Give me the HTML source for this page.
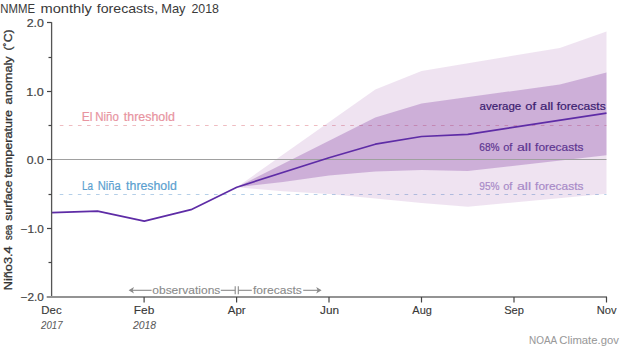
<!DOCTYPE html>
<html><head><meta charset="utf-8"><style>
html,body{margin:0;padding:0;background:#fff;width:620px;height:348px;overflow:hidden}
svg{display:block}
text{font-family:"Liberation Sans", sans-serif}
</style></head><body>
<svg width="620" height="348" viewBox="0 0 620 348">
<rect width="620" height="348" fill="#fff"/>
<text x="0.36" y="12.9" font-size="13" fill="#3a3a3a" stroke="#3a3a3a" stroke-width="0" textLength="34.72" lengthAdjust="spacingAndGlyphs">NMME</text>
<text x="40.51" y="12.9" font-size="13" fill="#3a3a3a" stroke="#3a3a3a" stroke-width="0" textLength="51.31" lengthAdjust="spacingAndGlyphs">monthly</text>
<text x="96.79" y="12.9" font-size="13" fill="#3a3a3a" stroke="#3a3a3a" stroke-width="0" textLength="61.29" lengthAdjust="spacingAndGlyphs">forecasts,</text>
<text x="161.24" y="12.9" font-size="13" fill="#3a3a3a" stroke="#3a3a3a" stroke-width="0" textLength="24.28" lengthAdjust="spacingAndGlyphs">May</text>
<text x="191.38" y="12.9" font-size="13" fill="#3a3a3a" stroke="#3a3a3a" stroke-width="0" textLength="27.57" lengthAdjust="spacingAndGlyphs">2018</text>
<line x1="59.8" y1="125.5" x2="606.5" y2="125.5" stroke="#e07a84" stroke-opacity="0.5" stroke-width="1" stroke-dasharray="3.6,5.476"/>
<line x1="59.7" y1="194.5" x2="606.5" y2="194.5" stroke="#6a9fd2" stroke-opacity="0.5" stroke-width="1" stroke-dasharray="3.6,5.476"/>
<polygon points="236.8,187.2 375.3,89.5 421.6,71.0 559.8,48.0 606.5,31.4 606.5,193.8 467.8,206.8 421.6,203.0 375.3,198.5 329.0,194.0 282.9,191.3 236.8,187.2" fill="#9444a2" fill-opacity="0.15"/>
<polygon points="236.8,187.2 375.3,117.6 421.6,103.4 559.8,84.6 606.5,72.5 606.5,155.2 467.8,171.0 421.6,170.0 375.3,171.4 329.0,175.5 282.9,182.0 236.8,187.2" fill="#7e399e" fill-opacity="0.3"/>
<line x1="51.6" y1="159.5" x2="606.5" y2="159.5" stroke="#a0a0a0" stroke-width="1"/>
<polyline points="51.6,212.6 97.6,211.1 144.3,221.2 191.0,209.7 236.8,187.2 329.0,157.7 375.3,144.2 421.6,136.5 467.8,134.4 606.5,113.1" fill="none" stroke="#5e2ca6" stroke-width="1.7" stroke-linejoin="round"/>
<text x="81.81" y="121.4" font-size="12" fill="#e8949f" stroke="#e8949f" stroke-width="0.2" textLength="10.69" lengthAdjust="spacingAndGlyphs">El</text>
<text x="95.15" y="121.4" font-size="12" fill="#e8949f" stroke="#e8949f" stroke-width="0.2" textLength="23.63" lengthAdjust="spacingAndGlyphs">Niño</text>
<text x="123.81" y="121.4" font-size="12" fill="#e8949f" stroke="#e8949f" stroke-width="0.2" textLength="51.08" lengthAdjust="spacingAndGlyphs">threshold</text>
<text x="81.88" y="189.7" font-size="12" fill="#5b9fd0" stroke="#5b9fd0" stroke-width="0.2" textLength="11.02" lengthAdjust="spacingAndGlyphs">La</text>
<text x="97.68" y="189.7" font-size="12" fill="#5b9fd0" stroke="#5b9fd0" stroke-width="0.2" textLength="23.01" lengthAdjust="spacingAndGlyphs">Niña</text>
<text x="126.12" y="189.7" font-size="12" fill="#5b9fd0" stroke="#5b9fd0" stroke-width="0.2" textLength="50.67" lengthAdjust="spacingAndGlyphs">threshold</text>
<text x="479.61" y="110.1" font-size="11.4" fill="#3b2070" stroke="#3b2070" stroke-width="0.2" textLength="41.59" lengthAdjust="spacingAndGlyphs">average</text>
<text x="525.25" y="110.1" font-size="11.4" fill="#3b2070" stroke="#3b2070" stroke-width="0.2" textLength="10.73" lengthAdjust="spacingAndGlyphs">of</text>
<text x="540.04" y="110.1" font-size="11.4" fill="#3b2070" stroke="#3b2070" stroke-width="0.2" textLength="13.27" lengthAdjust="spacingAndGlyphs">all</text>
<text x="556.72" y="110.1" font-size="11.4" fill="#3b2070" stroke="#3b2070" stroke-width="0.2" textLength="49.00" lengthAdjust="spacingAndGlyphs">forecasts</text>
<text x="479.29" y="150.8" font-size="11.4" fill="#5e3691" stroke="#5e3691" stroke-width="0.2" textLength="20.25" lengthAdjust="spacingAndGlyphs">68%</text>
<text x="503.13" y="150.8" font-size="11.4" fill="#5e3691" stroke="#5e3691" stroke-width="0.2" textLength="9.16" lengthAdjust="spacingAndGlyphs">of</text>
<text x="517.00" y="150.8" font-size="11.4" fill="#5e3691" stroke="#5e3691" stroke-width="0.2" textLength="14.17" lengthAdjust="spacingAndGlyphs">all</text>
<text x="535.12" y="150.8" font-size="11.4" fill="#5e3691" stroke="#5e3691" stroke-width="0.2" textLength="48.29" lengthAdjust="spacingAndGlyphs">forecasts</text>
<text x="479.32" y="189.7" font-size="11.4" fill="#a88ac8" stroke="#a88ac8" stroke-width="0.2" textLength="20.22" lengthAdjust="spacingAndGlyphs">95%</text>
<text x="503.13" y="189.7" font-size="11.4" fill="#a88ac8" stroke="#a88ac8" stroke-width="0.2" textLength="9.16" lengthAdjust="spacingAndGlyphs">of</text>
<text x="517.00" y="189.7" font-size="11.4" fill="#a88ac8" stroke="#a88ac8" stroke-width="0.2" textLength="14.17" lengthAdjust="spacingAndGlyphs">all</text>
<text x="535.12" y="189.7" font-size="11.4" fill="#a88ac8" stroke="#a88ac8" stroke-width="0.2" textLength="48.29" lengthAdjust="spacingAndGlyphs">forecasts</text>
<line x1="51.6" y1="22.2" x2="51.6" y2="297" stroke="#555" stroke-width="1.3"/>
<line x1="46.7" y1="297" x2="607" y2="297" stroke="#939393" stroke-width="2"/>
<line x1="47" y1="22.5" x2="51.6" y2="22.5" stroke="#444" stroke-width="1.2"/>
<text x="26.68" y="26.6" font-size="11" fill="#444" stroke="#444" stroke-width="0.2" textLength="17.18" lengthAdjust="spacingAndGlyphs">2.0</text>
<line x1="47" y1="91.5" x2="51.6" y2="91.5" stroke="#444" stroke-width="1.2"/>
<text x="26.35" y="95.6" font-size="11" fill="#444" stroke="#444" stroke-width="0.2" textLength="17.52" lengthAdjust="spacingAndGlyphs">1.0</text>
<line x1="47" y1="159.5" x2="51.6" y2="159.5" stroke="#444" stroke-width="1.2"/>
<text x="26.81" y="163.6" font-size="11" fill="#444" stroke="#444" stroke-width="0.2" textLength="17.05" lengthAdjust="spacingAndGlyphs">0.0</text>
<line x1="47" y1="228.5" x2="51.6" y2="228.5" stroke="#444" stroke-width="1.2"/>
<text x="20.61" y="232.6" font-size="11" fill="#444" stroke="#444" stroke-width="0.2" textLength="23.25" lengthAdjust="spacingAndGlyphs">−1.0</text>
<text x="20.61" y="301.1" font-size="11" fill="#444" stroke="#444" stroke-width="0.2" textLength="23.25" lengthAdjust="spacingAndGlyphs">−2.0</text>
<line x1="48.5" y1="57.5" x2="51.6" y2="57.5" stroke="#444" stroke-width="1.2"/>
<line x1="48.5" y1="125.5" x2="51.6" y2="125.5" stroke="#444" stroke-width="1.2"/>
<line x1="48.5" y1="194.5" x2="51.6" y2="194.5" stroke="#444" stroke-width="1.2"/>
<line x1="48.5" y1="262.5" x2="51.6" y2="262.5" stroke="#444" stroke-width="1.2"/>
<text x="41.36" y="313.6" font-size="11" fill="#383838" stroke="#383838" stroke-width="0.12" textLength="20.26" lengthAdjust="spacingAndGlyphs">Dec</text>
<line x1="144.1" y1="297" x2="144.1" y2="302.5" stroke="#444" stroke-width="1.2"/>
<text x="133.82" y="313.6" font-size="11" fill="#383838" stroke="#383838" stroke-width="0.12" textLength="20.46" lengthAdjust="spacingAndGlyphs">Feb</text>
<line x1="236.6" y1="297" x2="236.6" y2="302.5" stroke="#444" stroke-width="1.2"/>
<text x="227.77" y="313.6" font-size="11" fill="#383838" stroke="#383838" stroke-width="0.12" textLength="17.91" lengthAdjust="spacingAndGlyphs">Apr</text>
<line x1="329.0" y1="297" x2="329.0" y2="302.5" stroke="#444" stroke-width="1.2"/>
<text x="320.12" y="313.6" font-size="11" fill="#383838" stroke="#383838" stroke-width="0.12" textLength="19.04" lengthAdjust="spacingAndGlyphs">Jun</text>
<line x1="421.5" y1="297" x2="421.5" y2="302.5" stroke="#444" stroke-width="1.2"/>
<text x="412.37" y="313.6" font-size="11" fill="#383838" stroke="#383838" stroke-width="0.12" textLength="19.53" lengthAdjust="spacingAndGlyphs">Aug</text>
<line x1="514.0" y1="297" x2="514.0" y2="302.5" stroke="#444" stroke-width="1.2"/>
<text x="504.20" y="313.6" font-size="11" fill="#383838" stroke="#383838" stroke-width="0.12" textLength="19.76" lengthAdjust="spacingAndGlyphs">Sep</text>
<line x1="606.5" y1="297" x2="606.5" y2="302.5" stroke="#444" stroke-width="1.2"/>
<text x="596.78" y="313.6" font-size="11" fill="#383838" stroke="#383838" stroke-width="0.12" textLength="19.75" lengthAdjust="spacingAndGlyphs">Nov</text>
<text x="41.05" y="328.5" font-size="10" fill="#5a5a5a" stroke="#5a5a5a" stroke-width="0.05" font-style="italic" textLength="21.46" lengthAdjust="spacingAndGlyphs">2017</text>
<text x="132.95" y="328.5" font-size="10" fill="#5a5a5a" stroke="#5a5a5a" stroke-width="0.05" font-style="italic" textLength="23.22" lengthAdjust="spacingAndGlyphs">2018</text>
<text x="152.29" y="293.8" font-size="11" fill="#8a8a8a" stroke="#8a8a8a" stroke-width="0.1" textLength="68.03" lengthAdjust="spacingAndGlyphs">observations</text>
<text x="252.92" y="293.8" font-size="11" fill="#8a8a8a" stroke="#8a8a8a" stroke-width="0.1" textLength="48.90" lengthAdjust="spacingAndGlyphs">forecasts</text>
<g fill="#8a8a8a" stroke="none">
<path d="M128.6,290.3 L134,287 L132.6,290.3 L134,293.6 Z"/>
<path d="M321.6,290.3 L316.2,287 L317.6,290.3 L316.2,293.6 Z"/>
</g>
<g stroke="#8a8a8a" stroke-width="1.1" fill="none">
<line x1="131" y1="290.3" x2="151.6" y2="290.3"/>
<line x1="220.8" y1="290.3" x2="235.2" y2="290.3"/>
<line x1="235.2" y1="286.2" x2="235.2" y2="294.3"/>
<line x1="238.3" y1="286.2" x2="238.3" y2="294.3"/>
<line x1="238.3" y1="290.3" x2="251.8" y2="290.3"/>
<line x1="303.2" y1="290.3" x2="319" y2="290.3"/>
</g>
<text x="529.08" y="343.5" font-size="11" fill="#999" stroke="#999" stroke-width="0.05" textLength="28.13" lengthAdjust="spacingAndGlyphs">NOAA</text>
<text x="559.34" y="343.5" font-size="11" fill="#999" stroke="#999" stroke-width="0.05" textLength="59.49" lengthAdjust="spacingAndGlyphs">Climate.gov</text>
<g transform="translate(12.2,0) rotate(-90)">
<text x="-290.35" y="0" font-size="11" fill="#333" stroke="#333" stroke-width="0.3" textLength="44.03" lengthAdjust="spacingAndGlyphs">Niño3.4</text>
<text x="-240.06" y="0" font-size="11" fill="#333" stroke="#333" stroke-width="0.3" textLength="15.16" lengthAdjust="spacingAndGlyphs">sea</text>
<text x="-220.84" y="0" font-size="11" fill="#333" stroke="#333" stroke-width="0.3" textLength="40.39" lengthAdjust="spacingAndGlyphs">surface</text>
<text x="-177.69" y="0" font-size="11" fill="#333" stroke="#333" stroke-width="0.3" textLength="67.74" lengthAdjust="spacingAndGlyphs">temperature</text>
<text x="-104.44" y="0" font-size="11" fill="#333" stroke="#333" stroke-width="0.3" textLength="48.07" lengthAdjust="spacingAndGlyphs">anomaly</text>
<text x="-50.46" y="0" font-size="11" fill="#333" stroke="#333" stroke-width="0.3" textLength="21.01" lengthAdjust="spacingAndGlyphs">(˚C)</text>
</g>
</svg>
</body></html>
